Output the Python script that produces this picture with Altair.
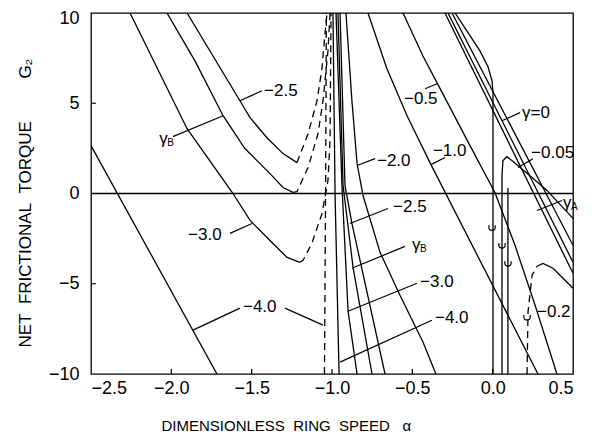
import altair as alt
import pandas as pd

# ---------------- curve data (alpha, G2) ----------------
# left branches (solid) and their dashed continuations
a_m40_L = [-2.5, -1.716]
g_m40_L = [2.65, -10.0]
a_m40_D = [-1.047, -1.040, -1.035]
g_m40_D = [-10.0, 0.0, 10.0]

a_m30_L = [-2.257, -1.902, -1.616, -1.510, -1.386, -1.280, -1.199]
g_m30_L = [10.0, 3.59, 0.0, -1.49, -2.60, -3.54, -3.81]
a_m30_D = [-1.199, -1.180, -1.125, -1.062, -1.025, -1.012, -1.006]
g_m30_D = [-3.81, -3.70, -2.76, -1.10, 0.72, 3.0, 10.0]

a_gB_L = [-2.027, -1.853, -1.678, -1.542, -1.386, -1.305, -1.243]
g_gB_L = [10.0, 7.35, 4.31, 2.49, 1.10, 0.33, 0.06]
a_gB_D = [-1.243, -1.218, -1.149, -1.087, -1.056, -1.025, -1.012]
g_gB_D = [0.06, 0.10, 1.44, 3.31, 5.14, 7.90, 10.0]

a_m25_L = [-1.902, -1.573, -1.510, -1.405, -1.305, -1.218]
g_m25_L = [10.0, 5.14, 4.20, 3.09, 2.21, 1.71]
a_m25_D = [-1.218, -1.149, -1.093, -1.062, -1.044, -1.031]
g_m25_D = [1.71, 3.31, 5.14, 6.96, 8.84, 10.0]

# right branches near alpha = -1
a_m40_R = [-0.994, -0.981, -0.956]
g_m40_R = [10.0, 0.0, -10.0]
a_m30_R = [-0.975, -0.938, -0.900, -0.844]
g_m30_R = [10.0, 0.44, -6.52, -10.0]
a_gB_R = [-0.963, -0.931, -0.869, -0.751]
g_gB_R = [10.0, 0.44, -4.09, -10.0]
a_m25_R = [-0.950, -0.919, -0.876, -0.670]
g_m25_R = [10.0, 0.44, -1.66, -10.0]
a_m20 = [-0.913, -0.876, -0.844, -0.807, -0.701, -0.577, -0.434, -0.353]
g_m20 = [10.0, 5.14, 1.66, -0.11, -3.26, -5.64, -8.23, -10.0]

# right family near alpha = 0
a_m10 = [-0.776, -0.658, -0.533, -0.384, 0.282]
g_m10 = [10.0, 6.91, 4.31, 1.60, -10.0]
a_m05 = [-0.558, -0.434, -0.346, -0.141, 0.014, 0.139, 0.264, 0.400]
g_m05 = [10.0, 7.62, 6.13, 2.65, 0.06, -2.87, -6.19, -10.0]
a_gA1 = [-0.297, 0.5]
g_gA1 = [10.0, -4.42]
a_gA2 = [-0.278, 0.5]
g_gA2 = [10.0, -3.81]
a_g0 = [-0.253, 0.5]
g_g0 = [10.0, -2.87]
a_knee = [-0.234, -0.079, -0.029, -0.004, 0.002, 0.002]
g_knee = [10.0, 7.90, 7.02, 6.24, 5.58, -10.0]
a_m005 = [0.058, 0.058, 0.064, 0.089, 0.127, 0.232, 0.338, 0.5]
g_m005 = [-10.0, 0.99, 1.82, 2.04, 1.77, 0.99, 0.17, -1.38]
a_m01 = [0.095, 0.095]
g_m01 = [-10.0, 0.30]
a_m02_D = [0.214, 0.220, 0.245, 0.276]
g_m02_D = [-10.0, -6.57, -4.53, -4.03]
a_m02 = [0.276, 0.313, 0.376, 0.5]
g_m02 = [-4.03, -3.87, -4.14, -5.25]

solid_curves = {
    "m40L": (a_m40_L, g_m40_L), "m30L": (a_m30_L, g_m30_L),
    "gBL": (a_gB_L, g_gB_L), "m25L": (a_m25_L, g_m25_L),
    "m40R": (a_m40_R, g_m40_R), "m30R": (a_m30_R, g_m30_R),
    "gBR": (a_gB_R, g_gB_R), "m25R": (a_m25_R, g_m25_R),
    "m20": (a_m20, g_m20), "m10": (a_m10, g_m10), "m05": (a_m05, g_m05),
    "gA1": (a_gA1, g_gA1), "gA2": (a_gA2, g_gA2), "g0": (a_g0, g_g0),
    "knee": (a_knee, g_knee), "m005": (a_m005, g_m005),
    "m01": (a_m01, g_m01), "m02": (a_m02, g_m02),
}
dashed_curves = {
    "m40D": (a_m40_D, g_m40_D), "m30D": (a_m30_D, g_m30_D),
    "gBD": (a_gB_D, g_gB_D), "m25D": (a_m25_D, g_m25_D),
    "m02D": (a_m02_D, g_m02_D),
}

# leader lines (alpha1, G1, alpha2, G2)
ld_a1 = [-1.573, -1.990, -1.635, -1.865, -1.293, -0.844, -0.421, -0.384, 0.058, 0.158, 0.276, -0.888, -0.876, -0.900, -0.950]
ld_g1 = [5.14, 3.15, -2.21, -7.57, -6.35, 1.55, 5.80, 1.60, 4.03, 1.44, -0.94, -1.66, -4.14, -6.52, -9.34]
ld_a2 = [-1.436, -1.678, -1.498, -1.573, -1.056, -0.732, -0.346, -0.297, 0.170, 0.251, 0.432, -0.652, -0.546, -0.471, -0.378]
ld_g2 = [5.69, 4.31, -1.66, -6.35, -7.29, 1.93, 6.08, 1.99, 4.48, 1.93, -0.39, -0.83, -2.93, -4.97, -7.02]

# curve labels
lb_text = ["\u22122.5", "\u22123.0", "\u22124.0", "\u22122.0", "\u22120.5", "\u22121.0", "\u03b3=0", "\u22120.05", "\u22120.2", "\u22122.5", "\u22123.0", "\u22124.0"]
lb_a = [-1.423, -1.896, -1.554, -0.720, -0.552, -0.372, 0.183, 0.239, 0.276, -0.620, -0.452, -0.359]
lb_g = [5.69, -2.32, -6.30, 1.82, 5.25, 2.38, 4.48, 2.27, -6.57, -0.77, -4.92, -6.91]

# gamma labels with subscripts
gl_a = [-2.075, -0.502, 0.438]
gl_g = [3.04, -2.87, -0.50]
gl_sub = ["B", "B", "A"]

# small hook symbols
hk_a = [-0.004, 0.058, 0.095, 0.214]
hk_g = [-1.88, -2.87, -3.87, -6.85]

x_ticks = [-2.5, -2.0, -1.5, -1.0, -0.5, 0.0, 0.5]
y_ticks = [-10, -5, 0, 5, 10]
inner_x_ticks = [-2.0, -1.5, -1.0, -0.5, 0.0]
inner_y_ticks = [-5, 5]

# ---------------- tables ----------------
def long_table(d):
    rows = []
    for name, (aa, gg) in d.items():
        for i, (a, g) in enumerate(zip(aa, gg)):
            rows.append({"curve": name, "seq": i, "a": a, "g": g})
    return pd.DataFrame(rows)

df_solid = long_table(solid_curves)
df_dash = long_table(dashed_curves)
df_lead = pd.DataFrame({"a": ld_a1, "g": ld_g1, "a2": ld_a2, "g2": ld_g2})
df_lab = pd.DataFrame({"a": lb_a, "g": lb_g, "t": lb_text})
df_gam = pd.DataFrame({"a": gl_a, "g": gl_g, "t": ["\u03b3"] * 3, "s": gl_sub})
df_hook = pd.DataFrame({"a": hk_a, "g": hk_g})
df_xt = pd.DataFrame({"a": inner_x_ticks, "g": [-10.0] * 5, "g2": [-9.72] * 5})
df_yt = pd.DataFrame({"a": [-2.5] * 2, "a2": [-2.47] * 2, "g": inner_y_ticks})
df_zero = pd.DataFrame({"a": [-2.5], "a2": [0.5], "g": [0.0]})

FONT = "Liberation Sans"
NB = "\u00a0"
xs = alt.Scale(domain=[-2.5, 0.5], nice=False, zero=False)
ys = alt.Scale(domain=[-10, 10], nice=False, zero=False)
xaxis = alt.Axis(values=x_ticks, format=".1f",
                 title="DIMENSIONLESS" + NB * 2 + "RING" + NB * 2 + "SPEED" + NB * 3 + "\u03b1",
                 titleX=70, titleY=51, titleAlign="left", titleBaseline="middle",
                 titleFontSize=15, labelPadding=5, grid=False)
yaxis = alt.Axis(values=y_ticks, format="d",
                 title="NET" + NB * 2 + "FRICTIONAL" + NB * 2 + "TORQUE" + NB * 9 + "G\u2082",
                 titleX=-66, titleY=334, titleAlign="left", titleAngle=270,
                 titleBaseline="middle", titleFontSize=17, labelPadding=12, grid=False,
                 labelOffset={"condition": {"test": "datum.value == 10", "value": 5}, "value": 0})

X = alt.X("a:Q", scale=xs, axis=xaxis)
Y = alt.Y("g:Q", scale=ys, axis=yaxis)

HOOK = "M -1 -0.7 L -1 0 C -1 0.7 -0.5 0.9 0 0.9 C 0.5 0.9 1 0.7 1 0 L 1 -0.7"

solid = alt.Chart(df_solid).mark_line(color="black", strokeWidth=1.3, clip=True).encode(
    x=X, y=Y, detail="curve:N", order="seq:Q")
dashed = alt.Chart(df_dash).mark_line(color="black", strokeWidth=1.3, strokeDash=[7, 5], clip=True).encode(
    x=X, y=Y, detail="curve:N", order="seq:Q")
leaders = alt.Chart(df_lead).mark_rule(color="black", strokeWidth=1.2).encode(
    x=X, y=Y, x2="a2:Q", y2="g2:Q")
zero = alt.Chart(df_zero).mark_rule(color="black", strokeWidth=1.3).encode(
    x=X, x2="a2:Q", y=Y)
xt = alt.Chart(df_xt).mark_rule(color="black", strokeWidth=1.2).encode(x=X, y=Y, y2="g2:Q")
yt = alt.Chart(df_yt).mark_rule(color="black", strokeWidth=1.2).encode(x=X, x2="a2:Q", y=Y)
labels = alt.Chart(df_lab).mark_text(font=FONT, fontSize=17, align="left", baseline="middle",
                                     color="black").encode(x=X, y=Y, text="t:N")
gam = alt.Chart(df_gam).mark_text(font=FONT, fontSize=17, align="left", baseline="middle",
                                  color="black").encode(x=X, y=Y, text="t:N")
gsub = alt.Chart(df_gam).mark_text(font=FONT, fontSize=10, align="left", baseline="middle",
                                   dx=8, dy=4, color="black").encode(x=X, y=Y, text="s:N")
hooks = alt.Chart(df_hook).mark_point(shape=HOOK, size=40, filled=False, color="black",
                                      strokeWidth=1.2, opacity=1).encode(x=X, y=Y)

chart = alt.layer(solid, dashed, leaders, zero, xt, yt, labels, gam, gsub, hooks).properties(
    width=482, height=361,
    padding={"left": 83, "top": 5, "right": 20, "bottom": 62},
    autosize=alt.AutoSizeParams(type="none"),
).configure_view(stroke="black", strokeWidth=1.3).configure_axis(
    domain=False, ticks=False, labelFont=FONT, labelFontSize=18, labelColor="black",
    titleFont=FONT, titleFontWeight="normal", titleColor="black"
)

chart.save("out.html", embed_options={"renderer": "svg", "actions": False})
